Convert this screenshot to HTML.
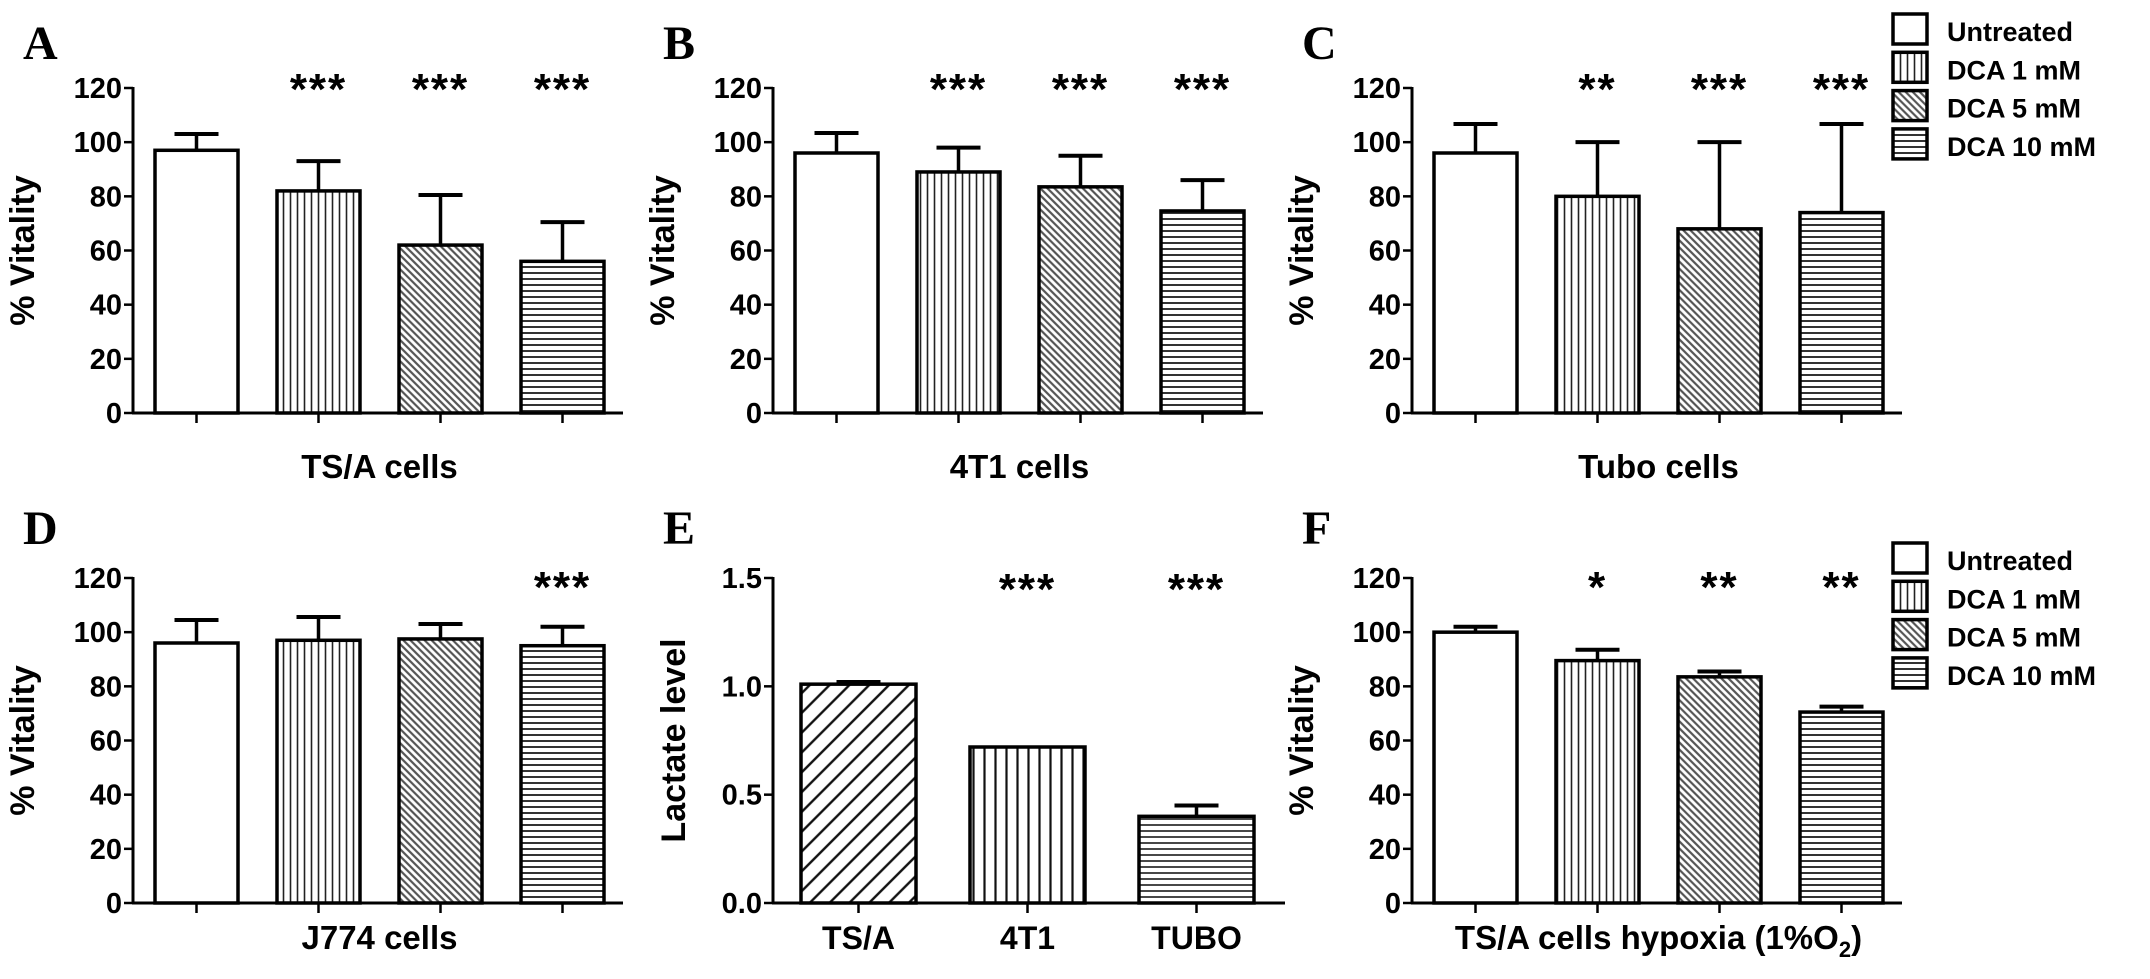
<!DOCTYPE html>
<html><head><meta charset="utf-8"><style>
html,body{margin:0;padding:0;background:#fff;}
svg{display:block;font-family:"Liberation Sans",Arial,sans-serif;}
</style></head><body>
<svg id="fig" width="2150" height="979" viewBox="0 0 2150 979" xmlns="http://www.w3.org/2000/svg">
<defs>
<pattern id="pVert" patternUnits="userSpaceOnUse" width="7" height="10"><rect width="7" height="10" fill="#fff"/><line x1="3.5" y1="0" x2="3.5" y2="10" stroke="#222" stroke-width="1.6"/></pattern>
<pattern id="pDiag" patternUnits="userSpaceOnUse" width="5" height="5" patternTransform="rotate(45)"><rect width="5" height="5" fill="#fff"/><line x1="0" y1="2.5" x2="5" y2="2.5" stroke="#555" stroke-width="2.2"/></pattern>
<pattern id="pHorz" patternUnits="userSpaceOnUse" width="10" height="6"><rect width="10" height="6" fill="#fff"/><line x1="0" y1="3" x2="10" y2="3" stroke="#333" stroke-width="2"/></pattern>
<pattern id="pDiagE" patternUnits="userSpaceOnUse" width="14" height="14" patternTransform="rotate(45)"><rect width="14" height="14" fill="#fff"/><line x1="7" y1="0" x2="7" y2="14" stroke="#111" stroke-width="2.4"/></pattern>
<pattern id="pVertE" patternUnits="userSpaceOnUse" width="11" height="10"><rect width="11" height="10" fill="#fff"/><line x1="5.5" y1="0" x2="5.5" y2="10" stroke="#111" stroke-width="2.2"/></pattern>
<pattern id="pHorzE" patternUnits="userSpaceOnUse" width="10" height="6"><rect width="10" height="6" fill="#fff"/><line x1="0" y1="3" x2="10" y2="3" stroke="#333" stroke-width="1.8"/></pattern>
</defs>
</svg>
<script>
// ---- data ----
const groups = ['Untreated', 'DCA 1 mM', 'DCA 5 mM', 'DCA 10 mM'];
const vitalityTicks = [0, 20, 40, 60, 80, 100, 120];
const lactateTicks = ['0.0', '0.5', '1.0', '1.5'];
const eCategories = ['TS/A', '4T1', 'TUBO'];

const aMeans = [97, 82, 62, 56];
const aErrTop = [103, 93, 80.5, 70.5];
const aStars = ['', '***', '***', '***'];

const bMeans = [96, 89, 83.5, 74.6];
const bErrTop = [103.4, 98, 95, 86];
const bStars = ['', '***', '***', '***'];

const cMeans = [96, 80, 68, 74];
const cErrTop = [106.7, 100, 100, 106.7];
const cStars = ['', '**', '***', '***'];

const dMeans = [96, 97, 97.5, 95];
const dErrTop = [104.5, 105.6, 103, 102];
const dStars = ['', '', '', '***'];

const eMeans = [1.01, 0.72, 0.40];
const eErrTop = [1.02, 0.72, 0.45];
const eStars = ['', '***', '***'];

const fMeans = [100, 89.5, 83.5, 70.5];
const fErrTop = [102, 93.5, 85.5, 72.5];
const fStars = ['', '*', '**', '**'];

// ---- drawing ----
const svg = document.getElementById('fig');
const NS = 'http://www.w3.org/2000/svg';
const fills = ['#fff', 'url(#pVert)', 'url(#pDiag)', 'url(#pHorz)'];
const eFills = ['url(#pDiagE)', 'url(#pVertE)', 'url(#pHorzE)'];

function mk(tag, attrs, parent) {
  const el = document.createElementNS(NS, tag);
  for (const k in attrs) el.setAttribute(k, attrs[k]);
  (parent || svg).appendChild(el);
  return el;
}
function txt(s, attrs, parent) { const t = mk('text', attrs, parent); t.textContent = s; return t; }

function panel(opt) {
  const g = mk('g', {});
  
  
  const x0 = opt.x0, yT = opt.yTop, yB = opt.y0;
  const ys = v => yB - (v - opt.min) / (opt.max - opt.min) * (yB - yT);
  const L = txt(opt.id, {x: x0 - 110, y: opt.letterY, 'font-family': '"Liberation Serif",serif', 'font-weight': 'bold', 'font-size': 48}, g);
  
  
  const ax = mk('line', {x1: x0, y1: yT - 1, x2: x0, y2: yB, stroke: '#000', 'stroke-width': 3}, g);
  
  
  opt.ticks.forEach(t => {
    const v = parseFloat(t);
    const y = ys(v);
    mk('line', {x1: x0 - 9, y1: y, x2: x0, y2: y, stroke: '#000', 'stroke-width': 2.5}, g);
    const tl = txt(String(t), {x: x0 - 11, y: y + 10, 'text-anchor': 'end', 'font-weight': 'bold', 'font-size': 29}, g);
    
    
  });
  const yc = (yT + yB) / 2;
  const yt = txt(opt.ylabel, {x: 0, y: 0, 'text-anchor': 'middle', 'font-weight': 'bold', 'font-size': 34,
    transform: 'translate(' + (x0 - opt.ylabOff) + ',' + yc + ') rotate(-90)'}, g);
  
  
  const xa = mk('line', {x1: x0 - 1, y1: yB, x2: x0 + opt.axisLen, y2: yB, stroke: '#000', 'stroke-width': 3}, g);
  
  
  opt.means.forEach((m, i) => {
    const bx = x0 + opt.off + i * opt.pitch;
    const cx = bx + opt.bw / 2;
    const yTopBar = ys(m);
    const et = ys(opt.err[i]);
    if (et < yTopBar - 1) {
      const e = mk('line', {x1: cx, y1: yTopBar, x2: cx, y2: et, stroke: '#000', 'stroke-width': 3.5}, g);
      
      
      mk('line', {x1: cx - opt.cap / 2, y1: et, x2: cx + opt.cap / 2, y2: et, stroke: '#000', 'stroke-width': 4}, g);
    }
    const r = mk('rect', {x: bx, y: yTopBar, width: opt.bw, height: yB - yTopBar, fill: opt.fills[i], stroke: '#000', 'stroke-width': 3.5}, g);
    
    
    mk('line', {x1: cx, y1: yB, x2: cx, y2: yB + 10, stroke: '#000', 'stroke-width': 2.5}, g);
    if (opt.stars[i]) {
      const s = txt(opt.stars[i], {x: cx, y: opt.starY, 'text-anchor': 'middle', 'font-weight': 'bold', 'font-size': 44, 'letter-spacing': 2}, g);
      
      
    }
    if (opt.cats) {
      const c = txt(opt.cats[i], {x: cx, y: opt.xlabY, 'text-anchor': 'middle', 'font-weight': 'bold', 'font-size': 32}, g);
      
      
    }
  });
  if (opt.xlabel) {
    const xc = x0 + opt.off + (opt.pitch * (opt.means.length - 1) + opt.bw) / 2;
    const xl = txt('', {x: xc, y: opt.xlabY, 'text-anchor': 'middle', 'font-weight': 'bold', 'font-size': 33}, g);
    
    
    if (opt.sub) {
      xl.appendChild(document.createTextNode(opt.xlabel));
      const sp = mk('tspan', {'font-size': 22, dy: 8}, xl); sp.textContent = '2';
      const sp2 = mk('tspan', {dy: -8}, xl); sp2.textContent = ')';
    } else xl.textContent = opt.xlabel;
  }
}

function legend(y0) {
  const g = mk('g', {});
  
  
  groups.forEach((name, i) => {
    const y = y0 + i * 38.3;
    const r = mk('rect', {x: 1893, y: y, width: 34, height: 30, fill: fills[i], stroke: '#000', 'stroke-width': 3.5}, g);
    
    
    const t = txt(name, {x: 1947, y: y + 27, 'font-weight': 'bold', 'font-size': 27}, g);
    
    
  });
}

const common = {min: 0, max: 120, ticks: vitalityTicks, ylabel: '% Vitality', ylabOff: 99,
  off: 22, pitch: 122, bw: 83, cap: 44, axisLen: 490, fills: fills};
const topRow = {yTop: 88, y0: 413, letterY: 59, starY: 104, xlabY: 478};
const botRow = {yTop: 578, y0: 903, letterY: 544, starY: 602, xlabY: 949};

panel(Object.assign({}, common, topRow, {id: 'A', x0: 133, means: aMeans, err: aErrTop, stars: aStars, xlabel: 'TS/A cells'}));
panel(Object.assign({}, common, topRow, {id: 'B', x0: 773, means: bMeans, err: bErrTop, stars: bStars, xlabel: '4T1 cells'}));
panel(Object.assign({}, common, topRow, {id: 'C', x0: 1412, means: cMeans, err: cErrTop, stars: cStars, xlabel: 'Tubo cells'}));
panel(Object.assign({}, common, botRow, {id: 'D', x0: 133, means: dMeans, err: dErrTop, stars: dStars, xlabel: 'J774 cells'}));
panel(Object.assign({}, common, botRow, {id: 'F', x0: 1412, means: fMeans, err: fErrTop, stars: fStars, xlabel: 'TS/A cells hypoxia (1%O', sub: true}));
panel(Object.assign({}, botRow, {id: 'E', x0: 773, min: 0, max: 1.5, ticks: lactateTicks, ylabel: 'Lactate level', ylabOff: 88,
  off: 28, pitch: 169, bw: 115, cap: 44, axisLen: 512, fills: eFills, means: eMeans, err: eErrTop, stars: eStars, cats: eCategories, starY: 604}));
legend(14);
legend(543);
</script>
</body></html>
